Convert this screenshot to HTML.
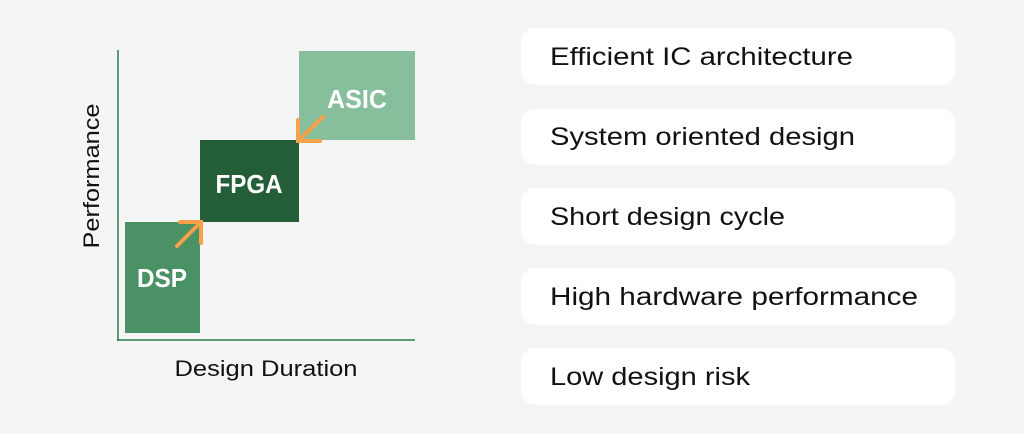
<!DOCTYPE html>
<html><head><style>
html,body{margin:0;padding:0;background:#f5f5f5;width:1024px;height:434px;overflow:hidden}
</style></head><body>
<svg width="1024" height="434" xmlns="http://www.w3.org/2000/svg" font-family="Liberation Sans, DejaVu Sans, sans-serif">
<rect width="1024" height="434" fill="#f5f5f5"/>
<line x1="118" y1="50" x2="118" y2="341" stroke="#2e7d4f" stroke-width="1.5"/>
<line x1="117" y1="340" x2="415" y2="340" stroke="#2e7d4f" stroke-width="1.5"/>
<rect x="125" y="222" width="75" height="111" fill="#4a9165"/>
<rect x="200" y="140" width="99" height="82" fill="#235e38"/>
<rect x="299" y="51" width="116" height="89" fill="#87bf9c"/>
<g fill="#fff" font-weight="bold" font-size="26" text-anchor="middle">
<text x="162" y="287" textLength="50" lengthAdjust="spacingAndGlyphs">DSP</text>
<text x="249" y="193" textLength="67" lengthAdjust="spacingAndGlyphs">FPGA</text>
<text x="357" y="108" textLength="60" lengthAdjust="spacingAndGlyphs">ASIC</text>
</g>
<g stroke="#f7a14a" stroke-width="4" stroke-linecap="round" fill="none">
<line x1="177" y1="246" x2="200" y2="223"/>
<polyline points="180,222 201,222 201,243"/>
<line x1="323" y1="117" x2="300" y2="139"/>
<polyline points="298,120 298,141 320,141"/>
</g>
<text x="266" y="376" font-size="22" fill="#111" text-anchor="middle" textLength="183" lengthAdjust="spacingAndGlyphs">Design Duration</text>
<text transform="translate(99,176) rotate(-90)" font-size="22" fill="#111" text-anchor="middle" textLength="145" lengthAdjust="spacingAndGlyphs">Performance</text>
<g fill="#fff">
<rect x="521" y="28" width="434" height="57" rx="14"/>
<rect x="521" y="109" width="434" height="56" rx="14"/>
<rect x="521" y="188" width="434" height="57" rx="14"/>
<rect x="521" y="268" width="434" height="57" rx="14"/>
<rect x="521" y="348" width="434" height="57" rx="14"/>
</g>
<g font-size="25" fill="#111">
<text x="550" y="65" textLength="303" lengthAdjust="spacingAndGlyphs">Efficient IC architecture</text>
<text x="550" y="145" textLength="305" lengthAdjust="spacingAndGlyphs">System oriented design</text>
<text x="550" y="225" textLength="235" lengthAdjust="spacingAndGlyphs">Short design cycle</text>
<text x="550" y="305" textLength="368" lengthAdjust="spacingAndGlyphs">High hardware performance</text>
<text x="550" y="385" textLength="200" lengthAdjust="spacingAndGlyphs">Low design risk</text>
</g>
</svg>
</body></html>
